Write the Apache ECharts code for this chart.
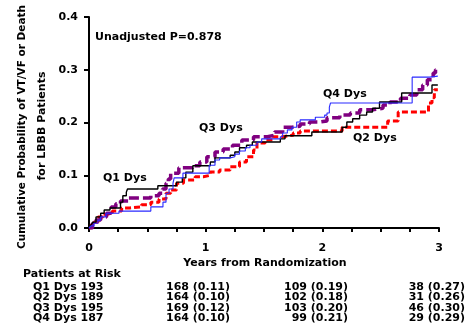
<!DOCTYPE html>
<html>
<head>
<meta charset="utf-8">
<script src="https://cdn.jsdelivr.net/npm/echarts@6/dist/echarts.min.js"></script>
<style>html,body{margin:0;padding:0;background:#fff;}#c{width:469px;height:333px;}</style>
</head>
<body>
<div id="c"></div>
<script>
// Q1 Dys (black, solid)
const q1T = [0, 0.017, 0.034, 0.06, 0.10, 0.13, 0.18, 0.27, 0.29, 0.32, 0.33, 0.59, 0.75, 0.80, 0.83, 0.89, 1.04, 1.08, 1.21, 1.25, 1.29, 1.35, 1.40, 1.64, 1.68, 1.91, 2.17, 2.21, 2.26, 2.32, 2.38, 2.43, 2.49, 2.68, 2.94, 2.99];
const q1Y = [0, 0.006, 0.011, 0.021, 0.028, 0.034, 0.038, 0.049, 0.061, 0.068, 0.074, 0.080, 0.087, 0.095, 0.106, 0.118, 0.125, 0.133, 0.138, 0.144, 0.152, 0.157, 0.163, 0.169, 0.175, 0.182, 0.191, 0.201, 0.207, 0.214, 0.220, 0.227, 0.239, 0.256, 0.271, 0.271];
// Q2 Dys (red, dashed)
const q2T = [0, 0.02, 0.034, 0.077, 0.12, 0.16, 0.20, 0.28, 0.35, 0.45, 0.53, 0.60, 0.66, 0.70, 0.75, 0.81, 0.91, 0.98, 1.04, 1.12, 1.21, 1.29, 1.35, 1.41, 1.44, 1.51, 1.58, 1.66, 1.75, 1.81, 2.17, 2.56, 2.65, 2.91, 2.94, 2.96, 2.99];
const q2Y = [0, 0.006, 0.011, 0.021, 0.026, 0.028, 0.032, 0.038, 0.040, 0.044, 0.049, 0.055, 0.066, 0.072, 0.085, 0.091, 0.097, 0.100, 0.106, 0.110, 0.116, 0.125, 0.135, 0.148, 0.161, 0.167, 0.173, 0.176, 0.180, 0.184, 0.191, 0.203, 0.220, 0.237, 0.247, 0.262, 0.262];
// Q3 Dys (purple, long dashes)
const q3T = [0, 0.03, 0.06, 0.10, 0.15, 0.19, 0.23, 0.27, 0.34, 0.53, 0.60, 0.63, 0.66, 0.68, 0.70, 0.77, 0.89, 0.95, 1.01, 1.08, 1.15, 1.23, 1.31, 1.41, 1.53, 1.59, 1.66, 1.74, 1.81, 1.89, 1.98, 2.04, 2.15, 2.24, 2.32, 2.43, 2.52, 2.58, 2.67, 2.75, 2.81, 2.86, 2.90, 2.95, 2.97, 2.99];
const q3Y = [0, 0.009, 0.015, 0.021, 0.028, 0.040, 0.046, 0.051, 0.057, 0.061, 0.066, 0.074, 0.085, 0.093, 0.104, 0.114, 0.118, 0.125, 0.135, 0.144, 0.150, 0.157, 0.167, 0.173, 0.176, 0.182, 0.191, 0.193, 0.197, 0.201, 0.203, 0.209, 0.214, 0.218, 0.224, 0.227, 0.233, 0.239, 0.246, 0.252, 0.262, 0.271, 0.281, 0.294, 0.300, 0.300];
// Q4 Dys (blue, solid)
const q4T = [0, 0.017, 0.043, 0.077, 0.10, 0.146, 0.257, 0.53, 0.634, 0.66, 0.686, 0.72, 0.73, 0.805, 1.03, 1.08, 1.12, 1.21, 1.25, 1.29, 1.34, 1.38, 1.44, 1.48, 1.64, 1.66, 1.70, 1.74, 1.78, 1.81, 1.94, 2.02, 2.04, 2.06, 2.07, 2.77, 2.92, 2.99];
const q4Y = [0, 0.004, 0.009, 0.015, 0.021, 0.028, 0.032, 0.040, 0.049, 0.066, 0.074, 0.085, 0.095, 0.104, 0.119, 0.129, 0.133, 0.135, 0.140, 0.146, 0.152, 0.157, 0.163, 0.169, 0.173, 0.180, 0.186, 0.191, 0.201, 0.205, 0.210, 0.214, 0.218, 0.229, 0.237, 0.286, 0.288, 0.288];

const seriesNames = ['Q1 Dys', 'Q2 Dys', 'Q3 Dys', 'Q4 Dys'];
const xTickLabels = ['0', '1', '2', '3'];
const riskTitle = 'Patients at Risk';
const riskRows = ['Q1 Dys 193', 'Q2 Dys 189', 'Q3 Dys 195', 'Q4 Dys 187'];
const riskYear1 = ['168 (0.11)', '164 (0.10)', '169 (0.12)', '164 (0.10)'];
const riskYear2 = ['109 (0.19)', '102 (0.18)', '103 (0.20)', '99 (0.21)'];
const riskYear3 = ['38 (0.27)', '31 (0.26)', '46 (0.30)', '29 (0.29)'];
const pText = 'Unadjusted P=0.878';
const yTitle1 = 'Cumulative Probability of VT/VF or Death';
const yTitle2 = 'for LBBB Patients';
const xTitle = 'Years from Randomization';

const FONT = 'bold 11px "DejaVu Sans"';
const pair = (t, y) => t.map((v, i) => [v, y[i]]);

const chart = echarts.init(document.getElementById('c'), null, {renderer: 'canvas'});

function txt(text, x, y, align, valign, extra, font) {
  return Object.assign({
    type: 'text', x: x, y: y, z: 10,
    style: {text: text, font: font || FONT, fill: '#000', align: align, verticalAlign: valign}
  }, extra || {});
}

const TITLE_FONT = 'bold 10.5px "DejaVu Sans"';
const graphics = [
  txt(pText, 95, 37, 'left', 'middle'),
  txt(seriesNames[0], 103, 178, 'left', 'middle'),
  txt(seriesNames[2], 199, 128, 'left', 'middle'),
  txt(seriesNames[3], 323, 94, 'left', 'middle'),
  txt(seriesNames[1], 353, 138, 'left', 'middle'),
  txt(yTitle1, 22, 127, 'center', 'middle', {rotation: Math.PI / 2}, TITLE_FONT),
  txt(yTitle2, 42, 126, 'center', 'middle', {rotation: Math.PI / 2}),
  txt(xTitle, 265, 263, 'center', 'middle'),
  txt(riskTitle, 23, 274, 'left', 'middle')
];
const rowY = [287, 297.5, 308, 318.5];
riskRows.forEach((r, i) => {
  graphics.push(txt(r, 33, rowY[i], 'left', 'middle'));
  graphics.push(txt(riskYear1[i], 230, rowY[i], 'right', 'middle'));
  graphics.push(txt(riskYear2[i], 348, rowY[i], 'right', 'middle'));
  graphics.push(txt(riskYear3[i], 465, rowY[i], 'right', 'middle'));
});

chart.setOption({
  animation: false,
  backgroundColor: '#fff',
  grid: {left: 89, right: 30, top: 17, bottom: 105, containLabel: false},
  xAxis: {
    type: 'value', min: 0, max: 3, interval: 0.25, offset: 2,
    axisLine: {show: true, lineStyle: {color: '#000', width: 2}},
    axisTick: {show: true, length: 4, lineStyle: {color: '#000', width: 2}},
    axisLabel: {
      margin: 13, color: '#000', fontFamily: 'DejaVu Sans', fontWeight: 'bold', fontSize: 11,
      formatter: v => (Math.abs(v - Math.round(v)) < 1e-9 ? xTickLabels[Math.round(v)] : '')
    },
    splitLine: {show: false}
  },
  yAxis: {
    type: 'value', min: 0, max: 0.4, interval: 0.1, offset: 6,
    axisLine: {show: true, lineStyle: {color: '#000', width: 2}},
    axisTick: {show: true, length: 5, lineStyle: {color: '#000', width: 2}},
    axisLabel: {
      margin: 5, color: '#000', fontFamily: 'DejaVu Sans', fontWeight: 'bold', fontSize: 11,
      formatter: v => v.toFixed(1)
    },
    splitLine: {show: false}
  },
  series: [
    {name: seriesNames[1], type: 'line', step: 'end', showSymbol: false, data: pair(q2T, q2Y), z: 2,
      lineStyle: {color: '#ff0000', width: 3, type: [6, 3]}},
    {name: seriesNames[2], type: 'line', step: 'end', showSymbol: false, data: pair(q3T, q3Y), z: 3,
      lineStyle: {color: '#800080', width: 3.5, type: [10, 4]}},
    {name: seriesNames[0], type: 'line', step: 'end', showSymbol: false, data: pair(q1T, q1Y), z: 4,
      lineStyle: {color: '#000000', width: 1.4}},
    {name: seriesNames[3], type: 'line', step: 'end', showSymbol: false, data: pair(q4T, q4Y), z: 5,
      lineStyle: {color: '#2a2aff', width: 1.1}}
  ],
  graphic: graphics
});
</script>
</body>
</html>
